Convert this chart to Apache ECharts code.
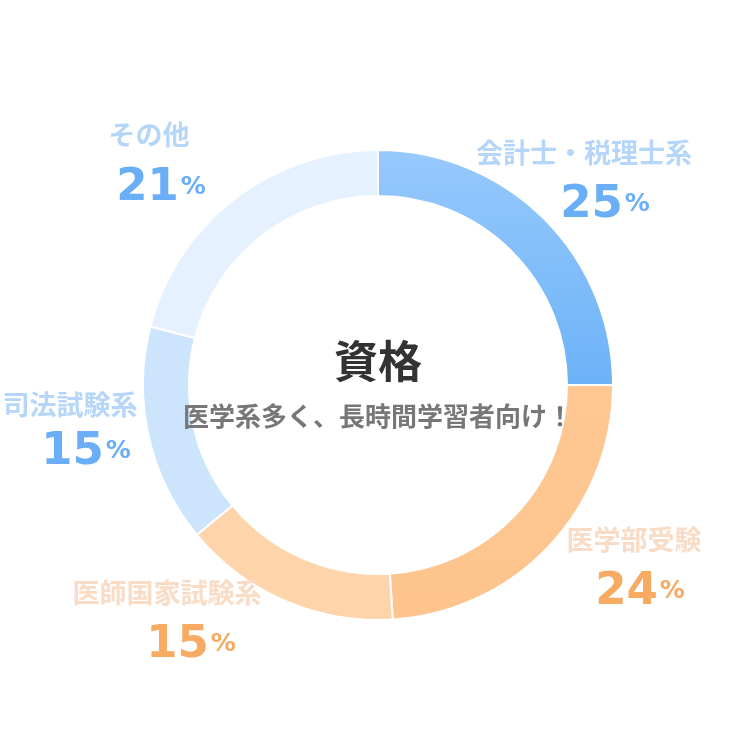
<!DOCTYPE html>
<html>
<head>
<meta charset="utf-8">
<script src="https://cdn.jsdelivr.net/npm/echarts@6/dist/echarts.min.js"></script>
<style>
  html, body { margin: 0; padding: 0; background: #fff; }
  #main { width: 756px; height: 756px; }
</style>
</head>
<body>
<div id="main"></div>
<script>
// データ
var categories = ["会計士・税理士系", "医学部受験", "医師国家試験系", "司法試験系", "その他"];
var values = [25, 24, 15, 15, 21];
var kinds = ["blue", "orange", "orange", "blue", "blue"];

// ラベル位置 (中心)
var namePos = [[584, 153], [634, 540], [167, 593], [70, 405], [149, 135]];
var pctPos = [[605, 205], [640, 592], [191, 645], [86, 452], [161, 188]];

var sliceColors = [
    new echarts.graphic.LinearGradient(0, 0, 0, 1, [
        {offset: 0, color: "#97c9fc"},
        {offset: 1, color: "#6cb2f8"}
    ]),
    new echarts.graphic.LinearGradient(0, 0, 0, 1, [
        {offset: 0, color: "#fec793"},
        {offset: 1, color: "#fdc48d"}
    ]),
    "#fed4aa",
    "#cde4fd",
    "#e5f1fe"
];

var nameColor = {blue: "#b5d6f8", orange: "#f9dcc6"};
var pctColor = {blue: "#6aaff6", orange: "#f6aa62"};

var ringData = [], pctData = [];

for (var i = 0; i < categories.length; i++) {
    ringData.push({
        name: categories[i],
        value: values[i],
        itemStyle: {color: sliceColors[i]},
        label: {color: nameColor[kinds[i]]}
    });
    pctData.push({
        name: categories[i],
        value: values[i],
        label: {
            rich: {
                p: {fontSize: 45, fontWeight: "bold", fontFamily: "DejaVu Sans", color: pctColor[kinds[i]]},
                u: {fontSize: 25, fontWeight: "bold", fontFamily: "DejaVu Sans", color: pctColor[kinds[i]], padding: [0, 0, 2, 2]}
            }
        }
    });
}

var myChart = echarts.init(document.getElementById("main"));

var option = {
    backgroundColor: "#fff",
    animation: false,
    title: {
        text: "資格",
        subtext: "医学系多く、長時間学習者向け！",
        left: "center",
        top: 334,
        itemGap: 20,
        textStyle: {fontSize: 44, fontWeight: "bold", color: "#333", fontFamily: "Noto Sans CJK JP"},
        subtextStyle: {fontSize: 26, fontWeight: "bold", color: "#777", fontFamily: "Noto Sans CJK JP"}
    },
    series: [
        {
            type: "pie",
            center: [378, 385],
            radius: [189, 235],
            startAngle: 90,
            clockwise: true,
            silent: true,
            itemStyle: {borderColor: "#fff", borderWidth: 2},
            label: {
                show: true,
                position: "outside",
                formatter: "{b}",
                overflow: "none",
                fontSize: 27,
                fontWeight: "bold",
                fontFamily: "Noto Sans CJK JP"
            },
            labelLine: {show: false},
            labelLayout: function(params){
                var p = namePos[params.dataIndex];
                return {x: p[0], y: p[1], align: "center", verticalAlign: "middle"};
            },
            data: ringData
        },
        {
            type: "pie",
            center: [378, 385],
            radius: [189, 235],
            startAngle: 90,
            clockwise: true,
            silent: true,
            itemStyle: {color: "rgba(0,0,0,0)"},
            label: {
                show: true,
                position: "outside",
                overflow: "none",
                formatter: function(params){
                    return "{p|" + params.value + "}{u|%}";
                }
            },
            labelLine: {show: false},
            labelLayout: function(params){
                var p = pctPos[params.dataIndex];
                return {x: p[0], y: p[1], align: "center", verticalAlign: "middle"};
            },
            data: pctData
        }
    ]
};

myChart.setOption(option);
</script>
</body>
</html>
